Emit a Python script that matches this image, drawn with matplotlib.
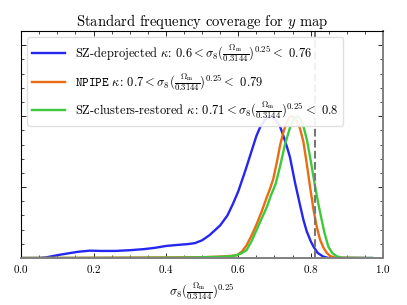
import matplotlib
matplotlib.use("Agg")
from matplotlib import pyplot as plt
from matplotlib.ticker import MultipleLocator, NullFormatter

plt.rcParams["font.family"] = "serif"
plt.rcParams["font.serif"] = ["cmr10"]
plt.rcParams["mathtext.fontset"] = "cm"
plt.rcParams["axes.formatter.use_mathtext"] = True

# values (normalised to peak = 1)
x_deproj = [0.0, 0.05, 0.07, 0.10, 0.13, 0.16, 0.19, 0.22, 0.26, 0.30, 0.34, 0.37,
            0.40, 0.43, 0.46, 0.48, 0.50, 0.52, 0.55, 0.57, 0.585, 0.60, 0.62, 0.64,
            0.65, 0.66, 0.675, 0.688, 0.70, 0.715, 0.725, 0.735, 0.743, 0.75, 0.757,
            0.764, 0.771, 0.78, 0.789, 0.80, 0.808, 0.82, 0.835, 0.85, 0.97]
y_deproj = [0.0, 0.0, 0.005, 0.02, 0.033, 0.045, 0.052, 0.05, 0.05, 0.055, 0.063, 0.072,
            0.085, 0.092, 0.098, 0.105, 0.125, 0.16, 0.23, 0.30, 0.38, 0.47, 0.62, 0.78,
            0.86, 0.92, 0.98, 1.0, 0.985, 0.93, 0.86, 0.78, 0.71, 0.62, 0.53,
            0.45, 0.37, 0.27, 0.19, 0.12, 0.08, 0.035, 0.01, 0.0, 0.0]

x_npipe = [0.0, 0.2, 0.4, 0.5, 0.55, 0.58, 0.596, 0.61, 0.623, 0.637, 0.651, 0.665,
           0.679, 0.688, 0.697, 0.707, 0.716, 0.725, 0.733, 0.741, 0.748, 0.755, 0.763,
           0.771, 0.78, 0.789, 0.798, 0.808, 0.817, 0.826, 0.835, 0.845, 0.855, 0.867,
           0.95]
y_npipe = [0.0, 0.002, 0.004, 0.006, 0.01, 0.015, 0.02, 0.045, 0.09, 0.16, 0.24, 0.33,
           0.43, 0.49, 0.56, 0.68, 0.80, 0.89, 0.95, 0.99, 1.0, 0.99, 0.96,
           0.91, 0.82, 0.67, 0.51, 0.34, 0.22, 0.13, 0.075, 0.035, 0.013, 0.003,
           0.0]

x_restored = [0.0, 0.3, 0.45, 0.55, 0.58, 0.596, 0.61, 0.623, 0.637, 0.651, 0.665,
              0.679, 0.69, 0.703, 0.715, 0.729, 0.743, 0.753, 0.763, 0.772, 0.78, 0.79,
              0.80, 0.812, 0.82, 0.828, 0.838, 0.849, 0.86, 0.872, 0.886, 0.97]
y_restored = [0.0, 0.001, 0.003, 0.008, 0.013, 0.02, 0.035, 0.056, 0.12, 0.20, 0.28,
              0.36, 0.44, 0.52, 0.64, 0.80, 0.92, 0.98, 1.0, 0.98, 0.93, 0.83,
              0.69, 0.51, 0.40, 0.30, 0.18, 0.08, 0.035, 0.012, 0.002, 0.0]

labels = [
    r"SZ-deprojected $\kappa$: 0.6$< \sigma_8(\frac{\Omega_{\rm m}}{0.3144})^{0.25} <$ 0.76",
    r"$\mathtt{NPIPE}$ $\kappa$: 0.7$< \sigma_8(\frac{\Omega_{\rm m}}{0.3144})^{0.25} <$ 0.79",
    r"SZ-clusters-restored $\kappa$: 0.71$< \sigma_8(\frac{\Omega_{\rm m}}{0.3144})^{0.25} <$ 0.8",
]
planck_value = 0.812

fig = plt.figure(figsize=(4.07, 3.05), dpi=100)
ax = fig.add_axes([0.052, 0.154, 0.889, 0.744])

ax.plot(x_deproj, y_deproj, color="#2626f2", lw=1.7, label=labels[0])
ax.plot(x_npipe, y_npipe, color="#ea6c12", lw=1.7, label=labels[1])
ax.plot(x_restored, y_restored, color="#3cc93c", lw=1.7, label=labels[2])
ax.axvline(planck_value, color="#777777", ls="--", lw=1.5)

ax.set_xlim(0, 1)
ax.set_ylim(0, 1.6)
ax.xaxis.set_major_locator(MultipleLocator(0.2))
ax.xaxis.set_minor_locator(MultipleLocator(0.05))
ax.yaxis.set_major_locator(MultipleLocator(0.5))
ax.yaxis.set_minor_locator(MultipleLocator(0.1))
ax.yaxis.set_major_formatter(NullFormatter())
ax.tick_params(which="both", direction="in", top=True, right=True, labelsize=8)
ax.tick_params(which="major", length=3.5, width=0.6)
ax.tick_params(which="minor", length=2, width=0.5)
for side in ["right", "bottom"]:
    ax.spines[side].set_color("#808080")
    ax.spines[side].set_linewidth(1.4)

ax.set_xlabel(r"$\sigma_8(\frac{\Omega_{\rm m}}{0.3144})^{0.25}$", fontsize=9)
ax.set_title(r"Standard frequency coverage for $y$ map", fontsize=10.5, pad=3)
ax.legend(loc="upper left", fontsize=9, handlelength=2.6, framealpha=0.9,
          edgecolor="#dddddd", borderpad=0.4, labelspacing=0.5)

fig.savefig("out.png", dpi=100)
